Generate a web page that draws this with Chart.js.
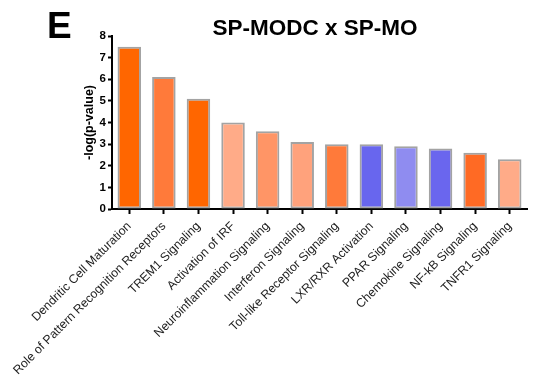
<!DOCTYPE html>
<html lang="en">
<head>
    <meta charset="UTF-8">
    <title>SP-MODC x SP-MO</title>
    <script src="https://cdn.jsdelivr.net/npm/chart.js"></script>
    <style>
        html, body { margin: 0; padding: 0; background: #fff; }
        #wrap { position: relative; width: 546px; height: 378px; }
    </style>
</head>
<body>
    <div id="wrap"><canvas id="pathwayChart"></canvas></div>

    <script>
    // Data
    const pathways = [
        'Dendritic Cell Maturation',
        'Role of Pattern Recognition Receptors',
        'TREM1 Signaling',
        'Activation of IRF',
        'Neuroinflammation Signaling',
        'Interferon Signaling',
        'Toll-like Receptor Signaling',
        'LXR/RXR Activation',
        'PPAR Signaling',
        'Chemokine Signaling',
        'NF-kB Signaling',
        'TNFR1 Signaling'
    ];
    const logP = [7.5, 6.1, 5.1, 4.0, 3.6, 3.1, 3.0, 3.0, 2.9, 2.8, 2.6, 2.3];
    const barColors = [
        '#ff6600', '#ff7a3a', '#ff6600', '#ffab88', '#ff9566', '#ffa27c',
        '#ff7a3a', '#6866ee', '#8f8cf0', '#6a66ee', '#ff6a24', '#ffab88'
    ];
    const yTicks = [0, 1, 2, 3, 4, 5, 6, 7, 8];

    const fontFamily = '"Liberation Sans", Arial, sans-serif';

    // panel letter + title
    const headerPlugin = {
        id: 'header',
        afterDraw(chart) {
            const ctx = chart.ctx;
            ctx.save();
            ctx.fillStyle = '#000';
            ctx.textBaseline = 'alphabetic';
            ctx.textAlign = 'left';
            ctx.font = 'bold 37px ' + fontFamily;
            ctx.fillText('E', 47, 38);
            ctx.textAlign = 'center';
            ctx.font = 'bold 22.5px ' + fontFamily;
            ctx.fillText('SP-MODC x SP-MO', 315, 35);
            ctx.restore();
        }
    };

    new Chart(document.getElementById('pathwayChart'), {
        type: 'bar',
        data: {
            labels: pathways,
            datasets: [{
                data: logP,
                backgroundColor: barColors,
                borderColor: '#a3a3a3',
                borderWidth: 2,
                borderSkipped: false,
                categoryPercentage: 1,
                barPercentage: 0.68
            }]
        },
        options: {
            responsive: true,
            maintainAspectRatio: false,
            animation: false,
            layout: { padding: { left: 78, right: 19, top: 36, bottom: 0 } },
            plugins: {
                legend: { display: false },
                tooltip: { enabled: false }
            },
            scales: {
                x: {
                    offset: true,
                    afterFit(axis) { axis.height = 169; },
                    grid: {
                        display: true,
                        drawOnChartArea: false,
                        drawTicks: true,
                        tickLength: 5,
                        tickWidth: 2,
                        tickColor: '#000',
                        offset: false
                    },
                    border: { display: true, color: '#000', width: 2 },
                    ticks: {
                        autoSkip: false,
                        maxRotation: 45,
                        minRotation: 45,
                        padding: 5,
                        color: '#222',
                        font: { family: fontFamily, size: 12.3 }
                    }
                },
                y: {
                    min: 0,
                    max: 8,
                    afterFit(axis) { axis.width = 34; },
                    afterBuildTicks(axis) { axis.ticks = yTicks.map(v => ({ value: v })); },
                    grid: {
                        display: true,
                        drawOnChartArea: false,
                        drawTicks: true,
                        tickLength: 4,
                        tickWidth: 2,
                        tickColor: '#000'
                    },
                    border: { display: true, color: '#000', width: 2 },
                    ticks: {
                        padding: 2,
                        color: '#000',
                        font: { family: fontFamily, size: 11.5, weight: 'bold' }
                    },
                    title: {
                        display: true,
                        text: '-log(p-value)',
                        color: '#000',
                        padding: { top: 4, bottom: 0 },
                        font: { family: fontFamily, size: 12.5, weight: 'bold' }
                    }
                }
            }
        },
        plugins: [headerPlugin]
    });
    </script>
</body>
</html>
